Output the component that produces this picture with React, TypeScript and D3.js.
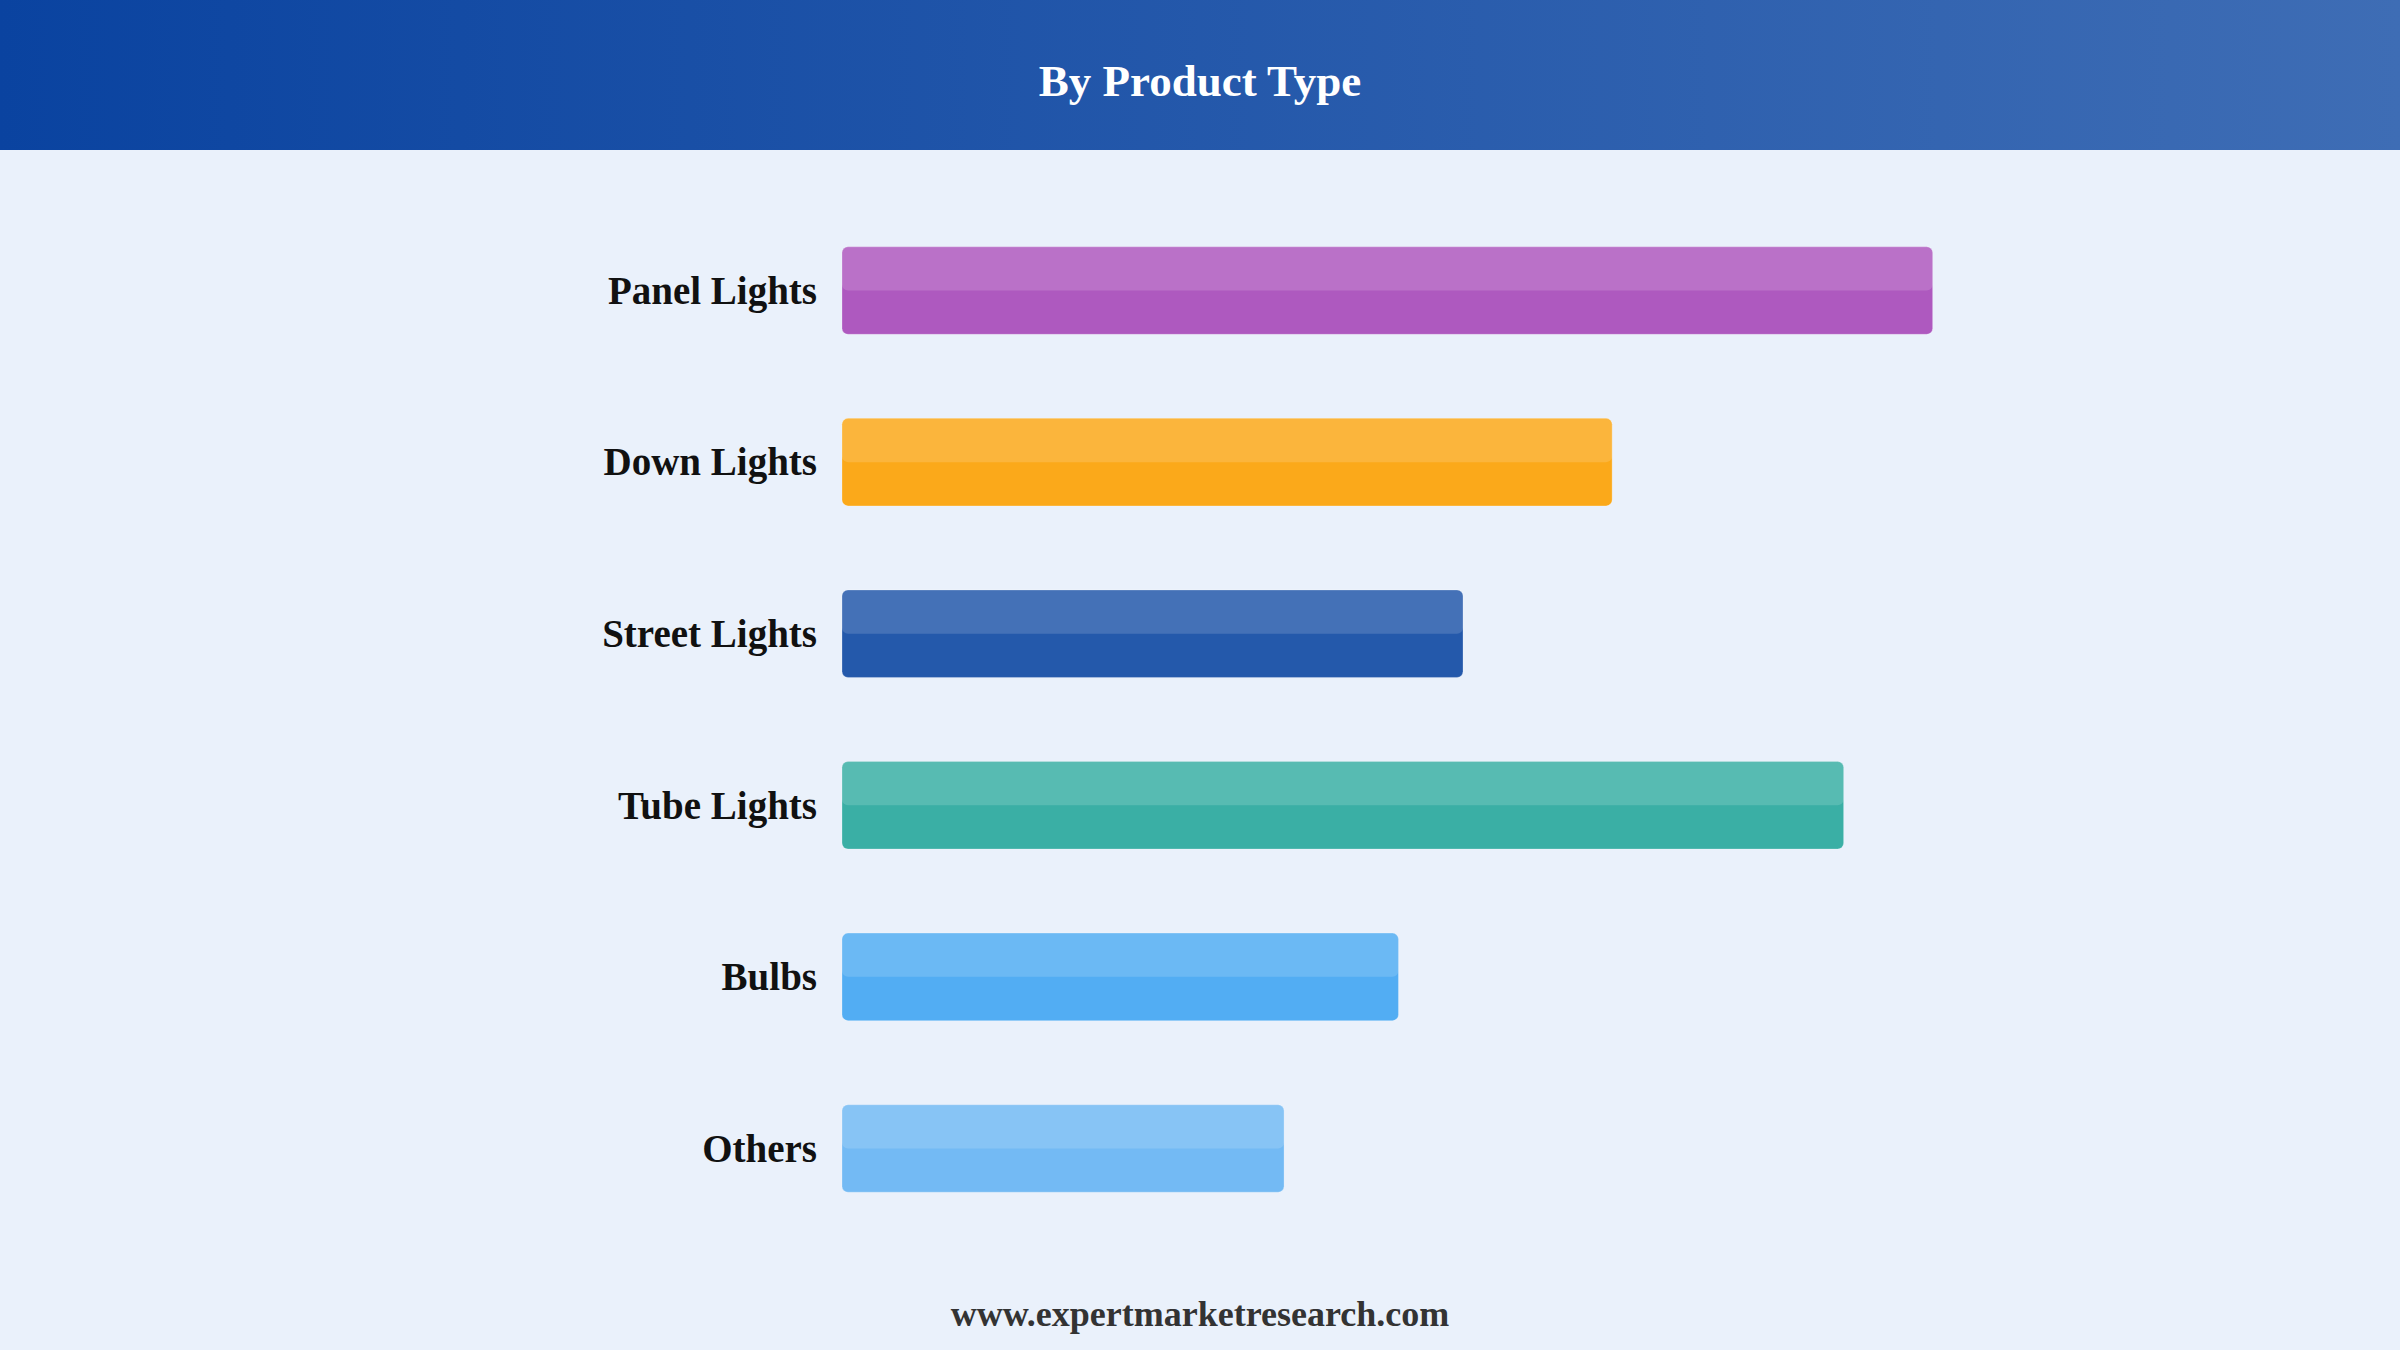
import { useEffect } from 'react'
import * as d3 from 'd3'

// chart data
const categories = ['Panel Lights', 'Down Lights', 'Street Lights', 'Tube Lights', 'Bulbs', 'Others']
const shares = [24.5, 17.3, 13.95, 22.5, 12.5, 9.93]
const barColors = ['#ae59bf', '#fba91a', '#2459ab', '#3aafa5', '#52adf3', '#73baf4']

const W = 2400
const H = 1350
const FONT = "'Liberation Serif', 'Times New Roman', serif"

const App = () => {
	useEffect(() => {
		document.body.style.margin = '0'
		document.body.style.overflow = 'hidden'
	}, [])

	const x = d3.scaleLinear().domain([0, 30]).range([842, 2177.5])
	const y = d3
		.scaleBand()
		.domain(categories)
		.range([161, 1278])
		.paddingInner(0.49)
		.paddingOuter(0.5)

	const bh = y.bandwidth()
	const r = 6

	return (
		<svg width={W} height={H} style={{ display: 'block' }}>
			<defs>
				<linearGradient id="hdr" x1="0" x2="1" y1="0" y2="0">
					<stop offset="0%" stopColor="#0a43a0" />
					<stop offset="100%" stopColor="#3e6db5" />
				</linearGradient>
			</defs>
			<rect width={W} height={H} fill="#eaf1fb" />
			<rect width={W} height={150} fill="url(#hdr)" />
			<text
				x={W / 2}
				y={96}
				textAnchor="middle"
				fill="#ffffff"
				fontFamily={FONT}
				fontWeight="bold"
				fontSize={45}
			>
				By Product Type
			</text>

			{categories.map((c, i) => {
				const top = y(c)
				const x0 = x(0)
				const w = x(shares[i]) - x0
				return (
					<g key={c}>
						<rect
							x={x0}
							y={top}
							width={w}
							height={bh}
							rx={r}
							fill={barColors[i]}
							stroke="#ffffff"
							strokeOpacity={0.25}
							strokeWidth={1}
						/>
						<rect x={x0} y={top} width={w} height={bh / 2} rx={r} fill="#ffffff" fillOpacity={0.15} />
						<text
							x={817}
							y={top + bh / 2}
							dy="0.34em"
							textAnchor="end"
							fill="#111111"
							fontFamily={FONT}
							fontWeight="bold"
							fontSize={39}
						>
							{c}
						</text>
					</g>
				)
			})}

			<text
				x={W / 2}
				y={1326}
				textAnchor="middle"
				fill="#333333"
				fontFamily={FONT}
				fontWeight="bold"
				fontSize={36}
			>
				www.expertmarketresearch.com
			</text>
		</svg>
	)
}

export default App
